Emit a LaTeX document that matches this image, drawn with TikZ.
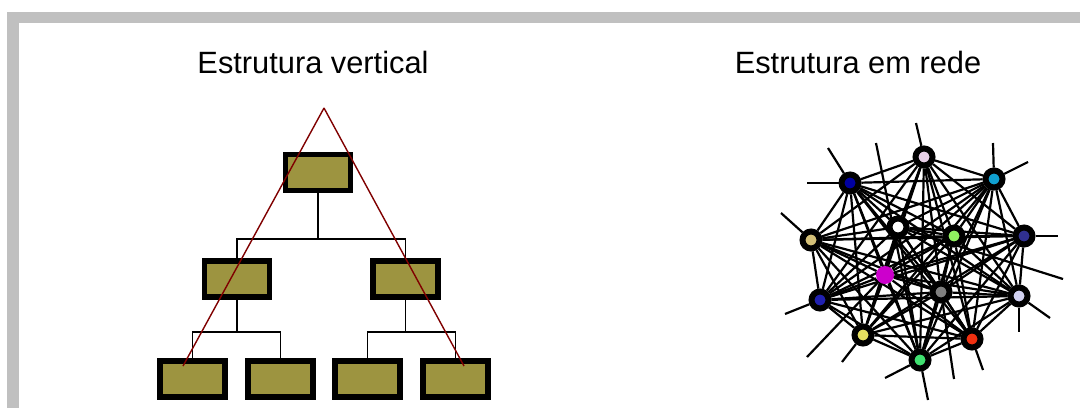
\documentclass[tikz,border=0pt]{standalone}
\usepackage{fontspec}
\setmainfont{Liberation Sans}
\usetikzlibrary{positioning,backgrounds}
\definecolor{framegray}{RGB}{192,192,192}
\definecolor{boxolive}{RGB}{157,148,64}
\definecolor{triangred}{RGB}{128,0,0}
\definecolor{c_lilac}{RGB}{232,208,232}
\definecolor{c_dblue}{RGB}{0,0,160}
\definecolor{c_cyan}{RGB}{16,160,208}
\definecolor{c_khaki}{RGB}{212,192,120}
\definecolor{c_lgreen}{RGB}{144,240,96}
\definecolor{c_navy}{RGB}{48,48,144}
\definecolor{c_magenta}{RGB}{204,0,204}
\definecolor{c_gray}{RGB}{128,128,128}
\definecolor{c_blue}{RGB}{32,32,176}
\definecolor{c_lavender}{RGB}{208,208,240}
\definecolor{c_yellow}{RGB}{230,224,96}
\definecolor{c_red}{RGB}{240,48,16}
\definecolor{c_green}{RGB}{64,224,112}
\tikzstyle{cargo}=[draw=black, line width=2.6pt, fill=boxolive, minimum width=32.5pt, minimum height=18pt, inner sep=0pt]
\tikzstyle{ligacao}=[line width=0.9pt]
\tikzstyle{membro}=[circle, draw=black, line width=3pt, minimum size=8.5pt, inner sep=0pt]
\tikzstyle{fio}=[line width=1.1pt]
\tikzstyle{titulo}=[anchor=base, inner sep=0pt, font=\fontsize{15.4}{18}\selectfont]

\begin{document}
\begin{tikzpicture}[x=0.5pt, y=-0.5pt]
\useasboundingbox (0,0) rectangle (1080,408);
\node[titulo] (titv) at (313,73) {Estrutura vertical};
\node[titulo] (titr) at (858,73) {Estrutura em rede};
\node[cargo] (top) at (318,172.5) {};
\node[cargo] (midl) at (237,279) {};
\node[cargo] (midr) at (405.5,279) {};
\node[cargo] (bot1) at (192.5,379) {};
\node[cargo] (bot2) at (280.5,379) {};
\node[cargo] (bot3) at (367.5,379) {};
\node[cargo] (bot4) at (455.5,379) {};
\coordinate (topj) at (318,239);
\coordinate (midlj) at (237,332);
\coordinate (midrj) at (405.5,332);
\draw[ligacao] (top) -- (topj) -| (midl);
\draw[ligacao] (topj) -| (midr);
\draw[ligacao] (midl) -- (midlj) -| (bot1);
\draw[ligacao] (midlj) -| (bot2);
\draw[ligacao] (midr) -- (midrj) -| (bot3);
\draw[ligacao] (midrj) -| (bot4);
\coordinate (apex) at (324,108);
\coordinate (tril) at (183,366);
\coordinate (trir) at (464,366);
\draw[triangred, line width=0.7pt] (apex) -- (tril);
\draw[triangred, line width=0.7pt] (apex) -- (trir);
\node[membro, fill=c_lilac] (r1) at (924,157) {};
\node[membro, fill=c_dblue] (r2) at (850,183) {};
\node[membro, fill=c_cyan] (r3) at (994,179) {};
\node[membro, fill=c_khaki] (r4) at (811,240) {};
\node[membro, fill=white] (r5) at (898,227) {};
\node[membro, fill=c_lgreen] (r6) at (954,236) {};
\node[membro, fill=c_navy] (r7) at (1024,236) {};
\node[circle, fill=c_magenta, minimum size=9pt, inner sep=0pt] (r8) at (885,275) {};
\node[membro, fill=c_gray] (r9) at (941,292) {};
\node[membro, fill=c_blue] (r10) at (820,300) {};
\node[membro, fill=c_lavender] (r11) at (1019,296) {};
\node[membro, fill=c_yellow] (r12) at (863,335) {};
\node[membro, fill=c_red] (r13) at (972,339) {};
\node[membro, fill=c_green] (r14) at (920,360) {};
\coordinate (s1) at (916,123);
\coordinate (s2) at (828,148);
\coordinate (s3) at (807,183);
\coordinate (s4) at (876,143);
\coordinate (s5) at (928,400);
\coordinate (s6) at (885,378);
\coordinate (s7) at (993,143);
\coordinate (s8) at (1028,162);
\coordinate (s9) at (781,213);
\coordinate (s10) at (1058,236);
\coordinate (s11) at (1063,279);
\coordinate (s12) at (1050,318);
\coordinate (s13) at (1019,332);
\coordinate (s14) at (983,370);
\coordinate (s15) at (954,379);
\coordinate (s16) at (807,357);
\coordinate (s17) at (842,362);
\coordinate (s18) at (785,314);
\begin{pgfonlayer}{background}
\fill[framegray] (7,12) rectangle (1080,408);
\fill[white] (19,23) rectangle (1080,408);
\foreach \i in {1,...,13}{
  \pgfmathtruncatemacro{\j}{\i+1}
  \foreach \k in {\j,...,14}
    \draw[fio] (r\i) -- (r\k);
}
\draw[fio] (r1) -- (s1);
\draw[fio] (r2) -- (s2);
\draw[fio] (r2) -- (s3);
\draw[fio] (r14) -- (s4);
\draw[fio] (r14) -- (s5);
\draw[fio] (r14) -- (s6);
\draw[fio] (r3) -- (s7);
\draw[fio] (r3) -- (s8);
\draw[fio] (r4) -- (s9);
\draw[fio] (r7) -- (s10);
\draw[fio] (r5) -- (s11);
\draw[fio] (r11) -- (s12);
\draw[fio] (r11) -- (s13);
\draw[fio] (r13) -- (s14);
\draw[fio] (r9) -- (s15);
\draw[fio] (r8) -- (s16);
\draw[fio] (r12) -- (s17);
\draw[fio] (r10) -- (s18);
\end{pgfonlayer}
\end{tikzpicture}
\end{document}
